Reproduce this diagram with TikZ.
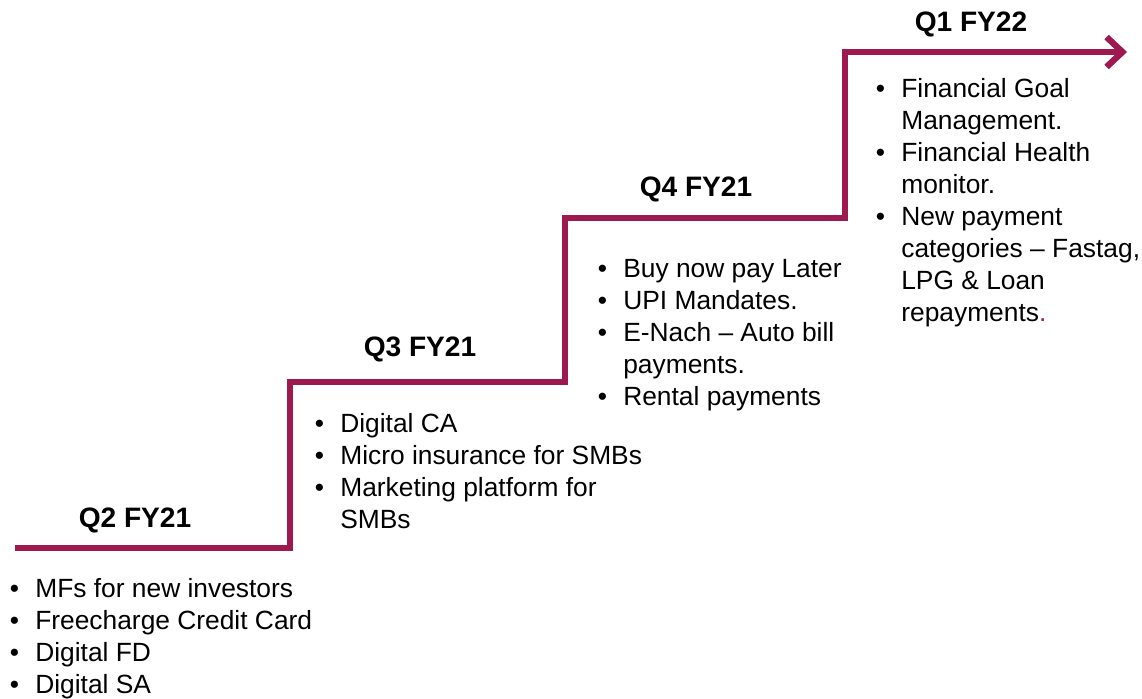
\documentclass[tikz,border=0pt]{standalone}
\usepackage{fontspec}
\setmainfont{Liberation Sans}
\usetikzlibrary{arrows.meta}
\definecolor{stepred}{RGB}{158,25,80}
\newcommand{\itm}[1]{\makebox[14.5pt][l]{\textbullet}#1}
\newcommand{\cnt}[1]{\hspace*{14.5pt}#1}

\begin{document}
\begin{tikzpicture}[x=0.02cm, y=-0.02cm,
  stair/.style={line width=3.6pt, draw=stepred, -{Straight Barb[length=9pt,width=17pt]}},
  qlabel/.style={anchor=base, inner sep=0pt, font=\fontsize{16}{19}\selectfont\bfseries},
  plist/.style={anchor=base west, inner sep=0pt, align=left, font=\fontsize{15}{18.2}\selectfont}]
\useasboundingbox (0,0) rectangle (1142,699);

% the steps
\coordinate (s0) at (15,548);
\coordinate (s1) at (290,548);
\coordinate (s2) at (290,382);
\coordinate (s3) at (565,382);
\coordinate (s4) at (565,218);
\coordinate (s5) at (845,218);
\coordinate (s6) at (845,52);
\coordinate (tip) at (1127,52);
\draw[stair] (s0) -- (s1) -- (s2) -- (s3) -- (s4) -- (s5) -- (s6) -- (tip);

% quarters
\node[qlabel] (q2) at (135,527) {Q2 FY21};
\node[qlabel] (q3) at (420,356) {Q3 FY21};
\node[qlabel] (q4) at (696,196) {Q4 FY21};
\node[qlabel] (q1) at (971,32) {Q1 FY22};

% features (placed by the baseline of their last line)
\node[plist] (l2) at (9.5,693) {\itm{MFs for new investors}\\ \itm{Freecharge Credit Card}\\
  \itm{Digital FD}\\ \itm{Digital SA}};
\node[plist] (l3) at (314.5,528) {\itm{Digital CA}\\ \itm{Micro insurance for SMBs}\\
  \itm{Marketing platform for}\\ \cnt{SMBs}};
\node[plist] (l4) at (597.5,405) {\itm{Buy now pay Later}\\ \itm{UPI Mandates.}\\
  \itm{E-Nach – Auto bill}\\ \cnt{payments.}\\ \itm{Rental payments}};
\node[plist] (l1) at (875.5,321) {\itm{Financial Goal}\\ \cnt{Management.}\\
  \itm{Financial Health}\\ \cnt{monitor.}\\ \itm{New payment}\\
  \cnt{categories – Fastag,}\\ \cnt{LPG \& Loan}\\ \cnt{repayments{\color{stepred}.}}};
\end{tikzpicture}
\end{document}
